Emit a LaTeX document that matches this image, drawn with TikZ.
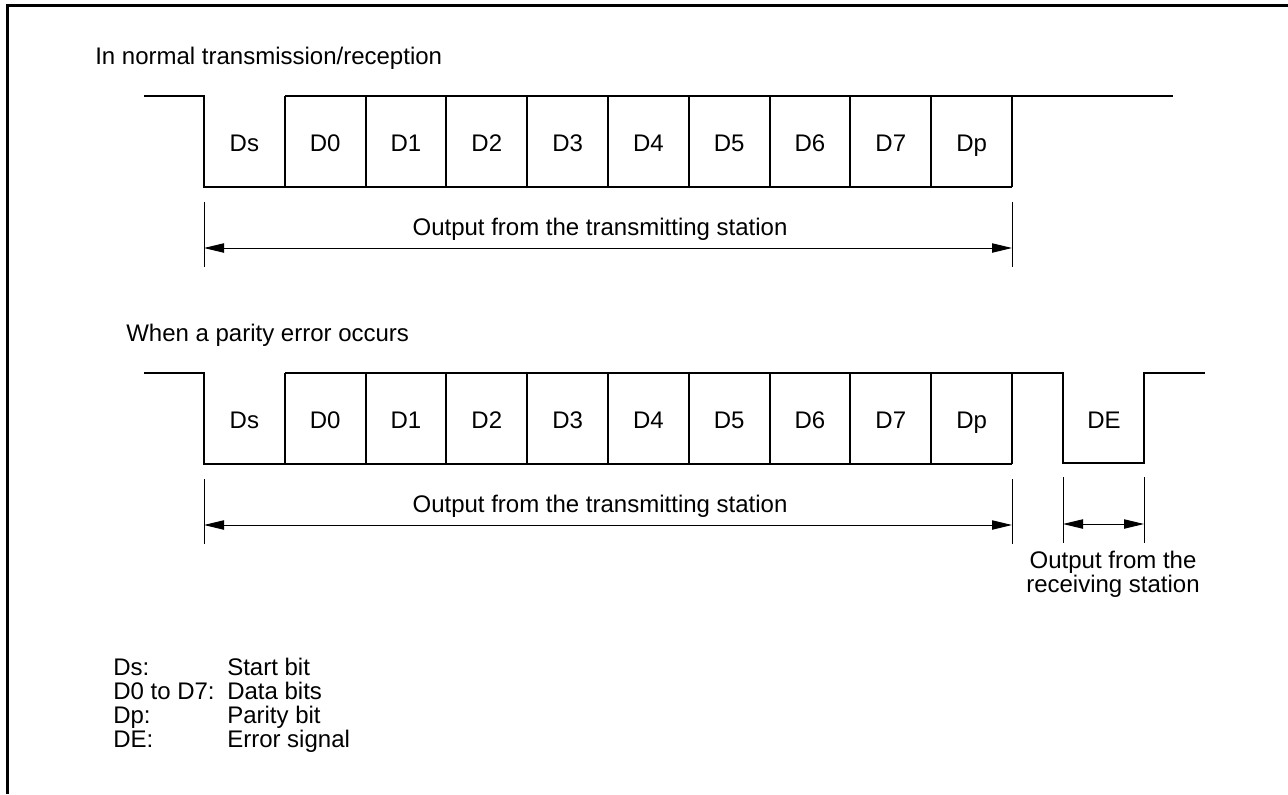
\documentclass[tikz,border=0pt]{standalone}
\usepackage{fontspec}
\setmainfont{Liberation Sans}
\usepackage{tikz}
\usetikzlibrary{arrows.meta,positioning}
\definecolor{linec}{HTML}{000000}
\tikzset{
  txt/.style={font=\fontsize{18}{18}\selectfont,inner sep=0pt},
  sig/.style={line width=1.5pt,linec},
  dim/.style={line width=0.75pt,linec},
  ar/.style={{Triangle[length=15pt,width=7pt]}-{Triangle[length=15pt,width=7pt]},line width=0.75pt,linec},
  frm/.style={line width=2.25pt,linec}
}

\begin{document}
\begin{tikzpicture}[x=0.75pt,y=-0.75pt]
\useasboundingbox (0,0) rectangle (1288,794);
\draw[frm] (7,794)--(7,5.5)--(1288,5.5);
\node[txt,anchor=base west] (ttl1) at (95,64) {In normal transmission/reception};
\node[txt,anchor=base west] (ttl2) at (126,341) {When a parity error occurs};
\foreach \oy/\r in {0/a,277/b}{
  \draw[sig] (144,96+\oy)--(204,96+\oy)--(204,187+\oy)--(1012,187+\oy);
  \draw[sig] (285,96+\oy)--(1012,96+\oy);
  \foreach \i in {1,...,10}
    \draw[sig] (204+80.8*\i,96+\oy)--(204+80.8*\i,187+\oy);
  \foreach \lab [count=\i from 0] in {Ds,D0,D1,D2,D3,D4,D5,D6,D7,Dp}
    \node[txt,anchor=base] (\r\i) at (244.4+80.8*\i,151+\oy) {\lab};
  \draw[dim] (204,202+\oy)--(204,267+\oy);
  \draw[dim] (1012,202+\oy)--(1012,267+\oy);
  \coordinate (\r L) at (204,248+\oy);
  \coordinate (\r R) at (1012,248+\oy);
  \draw[ar] (\r L)--(\r R);
  \node[txt,anchor=base] (\r out) at (600,235+\oy) {Output from the transmitting station};
}
\draw[sig] (1012,96)--(1173,96);
\draw[sig] (1012,373)--(1063,373)--(1063,463)--(1144,463)--(1144,373)--(1205,373);
\node[txt,anchor=base] (de) at (1104,428) {DE};
\draw[dim] (1063,477)--(1063,543);
\draw[dim] (1144,477)--(1144,543);
\coordinate (deL) at (1063,524);
\coordinate (deR) at (1144,524);
\draw[ar] (deL)--(deR);
\node[txt,anchor=north,align=center] (rcv) at (1113,551) {Output from the\\receiving station};
\foreach \k/\d [count=\j] in {Ds:/Start bit,D0 to D7:/Data bits,Dp:/Parity bit,DE:/Error signal}{
  \node[txt,anchor=base west] (k\j) at (113,651+24*\j) {\k};
  \node[txt,anchor=base west] (d\j) at (227,651+24*\j) {\d};
}
\end{tikzpicture}
\end{document}
